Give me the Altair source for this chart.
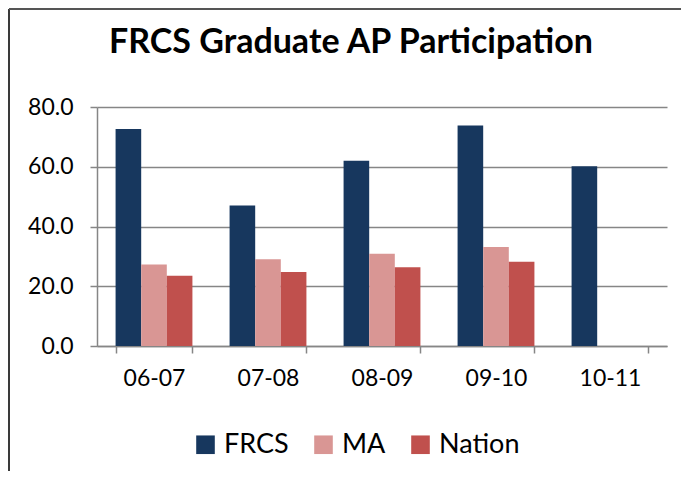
import altair as alt
import pandas as pd

years = ["06-07", "07-08", "08-09", "09-10", "10-11"]
series = ["FRCS", "MA", "Nation"]
frcs = [72.6, 47.0, 62.0, 73.8, 60.2]
ma = [27.3, 29.0, 30.9, 33.1, None]
nation = [23.5, 24.8, 26.4, 28.2, None]
colors = ["#17375E", "#D99694", "#C0504D"]

rows = []
for i, y in enumerate(years):
    for s, vals in zip(series, [frcs, ma, nation]):
        if vals[i] is not None:
            rows.append({"year": y, "series": s, "value": vals[i]})
df = pd.DataFrame(rows)

FONT = "Lato"

bars = alt.Chart(df).mark_bar().encode(
    x=alt.X("year:N", sort=years, title=None,
            scale=alt.Scale(paddingInner=0.326, paddingOuter=0.163),
            axis=alt.Axis(labelAngle=0, tickBand="extent", tickSize=7,
                          labelPadding=14, labelFontSize=23, domain=True, grid=False)),
    xOffset=alt.XOffset("series:N", sort=series,
                        scale=alt.Scale(domain=series, paddingInner=0, paddingOuter=0)),
    y=alt.Y("value:Q", title=None,
            scale=alt.Scale(domain=[0, 80], nice=False),
            axis=alt.Axis(values=[0, 20, 40, 60, 80], format=".1f", tickSize=7,
                          labelPadding=17, labelFontSize=23, grid=True)),
    color=alt.Color("series:N", sort=series, title=None,
                    scale=alt.Scale(domain=series, range=colors),
                    legend=alt.Legend(orient="none", legendX=95, legendY=324,
                                      direction="horizontal", symbolType="square",
                                      symbolSize=346, symbolStrokeWidth=0,
                                      labelFontSize=27, labelFont=FONT,
                                      labelOffset=5, columnPadding=21,
                                      labelColor="#000000")),
)

frame_df = pd.DataFrame({"a": [0]})
left_line = alt.Chart(frame_df).mark_rule(color="#3a3a3a", strokeWidth=2).encode(
    x=alt.value(-88), y=alt.value(-98), y2=alt.value(400))
top_line = alt.Chart(frame_df).mark_rule(color="#555555", strokeWidth=2).encode(
    x=alt.value(-88), x2=alt.value(620), y=alt.value(-98))

chart = alt.layer(bars, left_line, top_line).properties(
    width=570, height=239,
    title=alt.TitleParams("FRCS Graduate AP Participation", font=FONT, fontSize=34,
                          fontWeight="bold", color="#000000", anchor="middle",
                          baseline="alphabetic", dx=-31, offset=-79),
    padding={"left": 89, "top": 99, "right": 14, "bottom": 125},
    autosize=alt.AutoSizeParams(type="none"),
).configure_view(stroke=None).configure_axis(
    labelFont=FONT, labelColor="#000000",
    domainColor="#868686", domainWidth=1.5,
    tickColor="#868686", tickWidth=1.5,
    gridColor="#868686", gridWidth=1.5,
)

chart.save("out.html", embed_options={"renderer": "svg", "actions": False})
